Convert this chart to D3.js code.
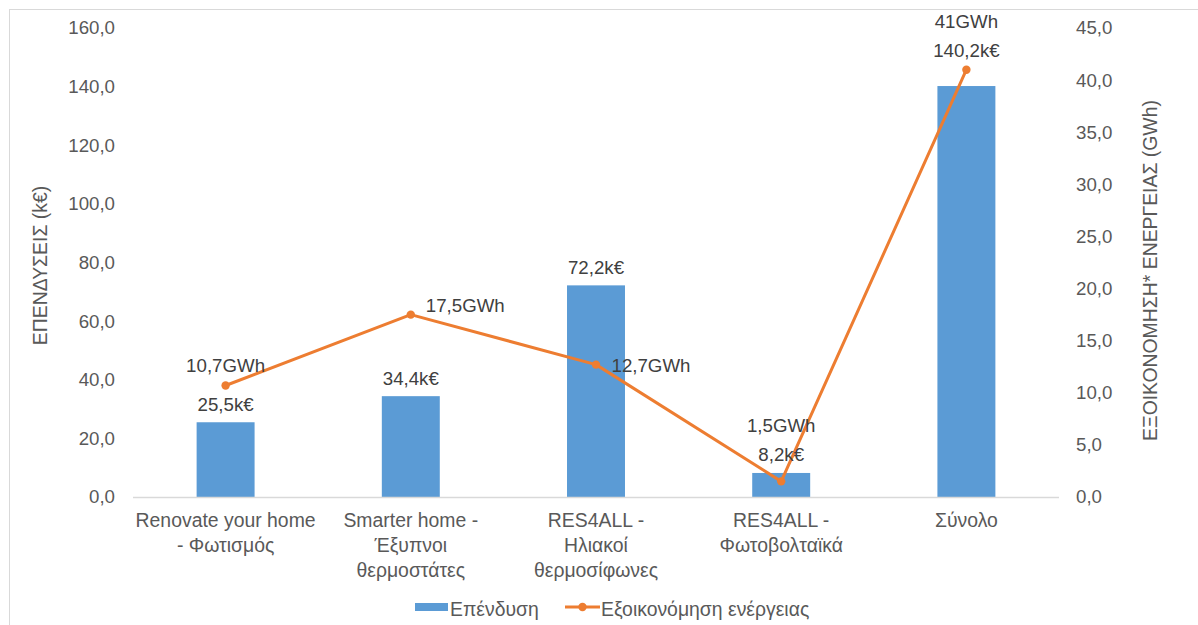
<!DOCTYPE html>
<html>
<head>
<meta charset="utf-8">
<script src="https://cdn.jsdelivr.net/npm/d3@7"></script>
<style>
  html, body { margin: 0; padding: 0; background: #fff; }
  svg { display: block; font-family: "Liberation Sans", Arial, Helvetica, sans-serif; }
</style>
</head>
<body>
<svg id="chart" width="1198" height="625"></svg>
<script>
// ---- data ----
const categories = [
  ["Renovate your home", "- Φωτισμός"],
  ["Smarter home -", "Έξυπνοι", "θερμοστάτες"],
  ["RES4ALL -", "Ηλιακοί", "θερμοσίφωνες"],
  ["RES4ALL -", "Φωτοβολταϊκά"],
  ["Σύνολο"]
];
const investment = [25.5, 34.4, 72.2, 8.2, 140.2];   // k€
const savings = [10.7, 17.5, 12.7, 1.5, 41];           // GWh
const leftTicks = [0, 20, 40, 60, 80, 100, 120, 140, 160];
const rightTicks = [0, 5, 10, 15, 20, 25, 30, 35, 40, 45];
const seriesNames = ["Επένδυση", "Εξοικονόμηση ενέργειας"];
const leftTitle = "ΕΠΕΝΔΥΣΕΙΣ (k€)";
const rightTitle = "ΕΞΟΙΚΟΝΟΜΗΣΗ* ΕΝΕΡΓΕΙΑΣ (GWh)";

// ---- label layout (style) ----
const barLabelDy = [-11.5, -11.5, -11.5, -11.5, -29.5];
const lineLabelAnchor = ["middle", "start", "start", "middle", "middle"];
const lineLabelDx = [0, 15, 15.5, 0, 0];
const lineLabelDy = [-13.8, -2.9, 7.1, -49.7, -41.4];

// ---- layout ----
const blue = "#5B9BD5", orange = "#ED7D31", textCol = "#595959", labelCol = "#404040";
const fs = 18.7;     // numbers
const fsT = 19.4;    // words
const plot = { left: 133, right: 1059, top: 28, bottom: 497 };

const svg = d3.select("#chart");

// frame
svg.append("rect").attr("x", 9.5).attr("y", 9.5).attr("width", 1300).attr("height", 700)
  .attr("fill", "none").attr("stroke", "#d9d9d9").attr("stroke-width", 1);

const x = d3.scaleBand().domain(d3.range(categories.length))
  .range([plot.left, plot.right]).paddingInner(0.687).paddingOuter(0.3435);
const yL = d3.scaleLinear().domain([0, 160]).range([plot.bottom, plot.top]);
const yR = d3.scaleLinear().domain([0, 45]).range([plot.bottom, plot.top]);
const fmt1 = v => d3.format(".1f")(v).replace(".", ",");
const fmtG = v => String(v).replace(".", ",");

// left axis
const gL = svg.append("g").attr("transform", `translate(${plot.left},0)`)
  .call(d3.axisLeft(yL).tickValues(leftTicks).tickFormat(fmt1).tickSize(0).tickPadding(18));
gL.select(".domain").remove();
gL.selectAll("text").attr("font-size", fs).attr("fill", textCol)
  .attr("font-family", "Liberation Sans, Arial, sans-serif");

// right axis
const gR = svg.append("g").attr("transform", `translate(${plot.right},0)`)
  .call(d3.axisRight(yR).tickValues(rightTicks).tickFormat(fmt1).tickSize(0).tickPadding(17));
gR.select(".domain").remove();
gR.selectAll("text").attr("font-size", fs).attr("fill", textCol)
  .attr("font-family", "Liberation Sans, Arial, sans-serif");

// bars
svg.append("g").selectAll("rect").data(investment).join("rect")
  .attr("x", (d, i) => x(i)).attr("width", x.bandwidth())
  .attr("y", d => yL(d)).attr("height", d => yL(0) - yL(d))
  .attr("fill", blue);

// baseline
svg.append("line").attr("x1", plot.left).attr("x2", plot.right)
  .attr("y1", yL(0) + 0.5).attr("y2", yL(0) + 0.5)
  .attr("stroke", "#d9d9d9").attr("stroke-width", 1.5);

// line
const cx = i => x(i) + x.bandwidth() / 2;
svg.append("path").datum(savings)
  .attr("d", d3.line().x((d, i) => cx(i)).y(d => yR(d)))
  .attr("fill", "none").attr("stroke", orange).attr("stroke-width", 3).attr("stroke-linejoin", "round");
svg.append("g").selectAll("circle").data(savings).join("circle")
  .attr("cx", (d, i) => cx(i)).attr("cy", d => yR(d)).attr("r", 4.2).attr("fill", orange);

// bar labels
svg.append("g").selectAll("text").data(investment).join("text")
  .attr("x", (d, i) => cx(i)).attr("y", (d, i) => yL(d) + barLabelDy[i])
  .attr("text-anchor", "middle").attr("font-size", fs).attr("fill", labelCol)
  .text(d => fmt1(d) + "k€");

// line labels
svg.append("g").selectAll("text").data(savings).join("text")
  .attr("x", (d, i) => cx(i) + lineLabelDx[i]).attr("y", (d, i) => yR(d) + lineLabelDy[i])
  .attr("text-anchor", (d, i) => lineLabelAnchor[i]).attr("font-size", fs).attr("fill", labelCol)
  .text(d => fmtG(d) + "GWh");

// category labels
const catG = svg.append("g").selectAll("text").data(categories).join("text")
  .attr("text-anchor", "middle").attr("font-size", fsT).attr("fill", textCol);
catG.each(function (lines, i) {
  d3.select(this).selectAll("tspan").data(lines).join("tspan")
    .attr("x", cx(i)).attr("y", (d, j) => 527 + j * 25).text(d => d);
});

// axis titles
svg.append("text").attr("transform", `translate(47,${(plot.top + plot.bottom) / 2 + 3}) rotate(-90)`)
  .attr("text-anchor", "middle").attr("font-size", fsT).attr("fill", textCol).text(leftTitle);
svg.append("text").attr("transform", `translate(1157,${(plot.top + plot.bottom) / 2 + 8}) rotate(-90)`)
  .attr("text-anchor", "middle").attr("font-size", fsT).attr("fill", textCol).text(rightTitle);

// legend
const lg = svg.append("g");
lg.append("rect").attr("x", 415).attr("y", 603).attr("width", 33).attr("height", 8).attr("fill", blue);
lg.append("text").attr("x", 450).attr("y", 615.5).attr("font-size", fsT).attr("fill", textCol).text(seriesNames[0]);
lg.append("line").attr("x1", 565).attr("x2", 600).attr("y1", 607).attr("y2", 607)
  .attr("stroke", orange).attr("stroke-width", 3);
lg.append("circle").attr("cx", 582.5).attr("cy", 607).attr("r", 4.2).attr("fill", orange);
lg.append("text").attr("x", 601).attr("y", 615.5).attr("font-size", fsT).attr("fill", textCol).text(seriesNames[1]);
</script>
</body>
</html>
